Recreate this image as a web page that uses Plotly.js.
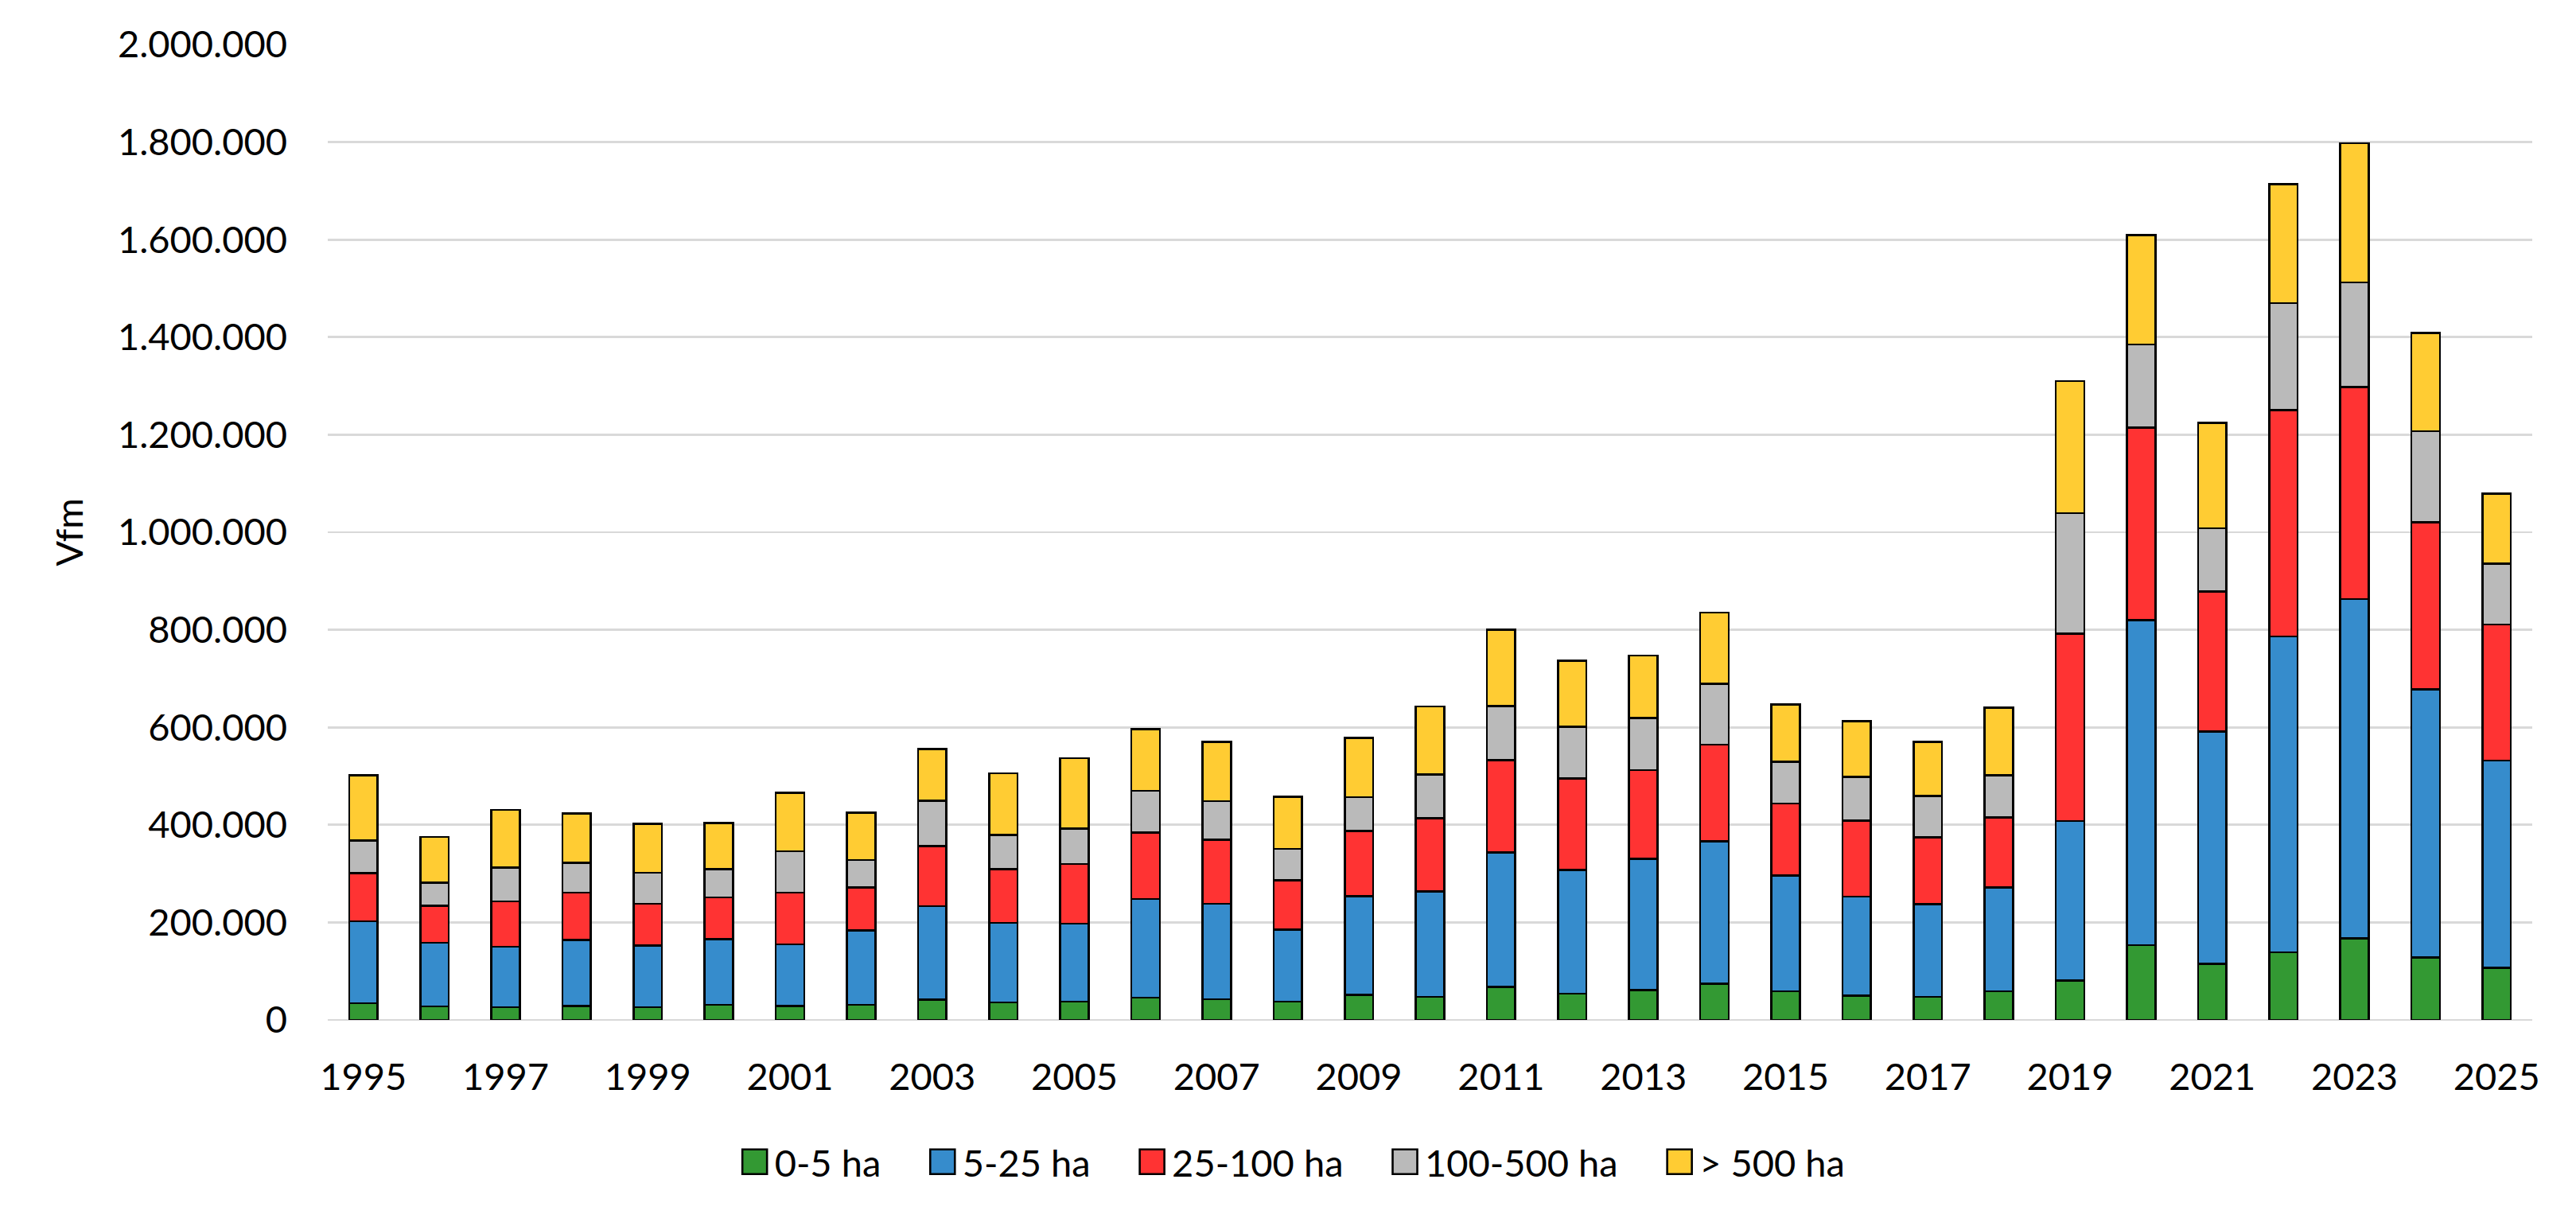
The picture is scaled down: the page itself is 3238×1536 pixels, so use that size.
<!DOCTYPE html>
<html>
<head>
<meta charset="utf-8">
<script src="https://cdn.plot.ly/plotly-3.0.1.min.js"></script>
<style>html,body{margin:0;padding:0;background:#fff;}#chart{width:3238px;height:1536px;}</style>
</head>
<body>
<div id="chart"></div>
<script>
const years = ['1995','1996','1997','1998','1999','2000','2001','2002','2003','2004','2005','2006','2007','2008','2009','2010','2011','2012','2013','2014','2015','2016','2017','2018','2019','2020','2021','2022','2023','2024','2025'];
const tickYears = ['1995','1997','1999','2001','2003','2005','2007','2009','2011','2013','2015','2017','2019','2021','2023','2025'];
const seriesNames = ['0-5 ha','5-25 ha','25-100 ha','100-500 ha','> 500 ha'];
const ha0_5 = [34000,27500,26000,29000,26000,31000,29000,31000,42000,36000,37500,46000,42500,37500,51000,47500,67500,54000,61000,74000,59000,50000,47000,58500,81000,153500,115000,138500,167000,128500,107000];
const ha5_25 = [168000,130500,124000,135000,127000,135000,126000,153000,191000,163000,160000,202000,196000,147500,203000,216000,276000,253500,269000,292000,237000,203000,190500,213500,327000,666500,476000,647500,696000,549000,424500];
const ha25_100 = [99000,76000,93000,97000,85000,85000,106000,88000,123000,110000,122000,136000,131000,101000,133000,150000,189000,187500,182500,198500,148000,156000,136500,143500,384000,395000,287000,464000,434500,343000,279500];
const ha100_500 = [67000,47000,69000,61000,64000,58000,85000,56000,93000,70000,73000,86000,79000,65000,70000,90000,111000,106000,106500,125000,85000,89000,85000,86000,247000,170000,130000,220000,214500,187000,125000];
const ha500plus = [134000,94000,119000,101000,100000,95000,120000,97000,106000,127000,144000,126000,122000,106500,121000,139500,157000,136000,128000,146000,118000,114500,111000,138500,271000,224500,216000,244000,286000,201000,143000];
const seriesValues = [ha0_5, ha5_25, ha25_100, ha100_500, ha500plus];
const colors = ['#339933','#368ccc','#ff3333','#bababa','#ffcc33'];

const FONT = 'Lato, "Open Sans", sans-serif';
const traces = seriesNames.map((name, i) => ({
  type: 'bar',
  name: name,
  x: years,
  y: seriesValues[i],
  marker: {color: colors[i], line: {color: '#000000', width: 2.6}},
  hoverinfo: 'x+y+name'
}));

const layout = {
  width: 3238,
  height: 1536,
  barmode: 'stack',
  bargap: 0.6,
  separators: ',.',
  paper_bgcolor: '#ffffff',
  plot_bgcolor: '#ffffff',
  font: {family: FONT, size: 47, color: '#000000'},
  margin: {l: 412, r: 55, t: 56, b: 254, pad: 0},
  xaxis: {
    type: 'category',
    tickmode: 'array',
    tickvals: tickYears,
    ticktext: tickYears,
    range: [-0.5, years.length - 0.5],
    showgrid: false,
    showline: false,
    zeroline: false,
    ticks: '',
    ticklabelstandoff: 40,
    tickfont: {family: FONT, size: 47, color: '#000000'}
  },
  yaxis: {
    range: [0, 2000000],
    dtick: 200000,
    tickformat: ',d',
    showgrid: true,
    gridcolor: '#d9d9d9',
    gridwidth: 2.7,
    zeroline: true,
    zerolinecolor: '#d9d9d9',
    zerolinewidth: 2.7,
    showline: false,
    ticks: '',
    ticklabelstandoff: 50,
    tickfont: {family: FONT, size: 47, color: '#000000'},
    title: {text: 'Vfm', font: {family: FONT, size: 47, color: '#000000'}, standoff: 28}
  },
  showlegend: true,
  legend: {
    orientation: 'h',
    xref: 'paper',
    x: 0.439,
    xanchor: 'center',
    yref: 'container',
    y: 0.049,
    yanchor: 'middle',
    traceorder: 'normal',
    font: {family: FONT, size: 47, color: '#000000'},
    itemwidth: 40,
    bgcolor: 'rgba(0,0,0,0)'
  }
};

function parseT(g) {
  const m = /translate\(\s*([-\d.e]+)[ ,]+([-\d.e]+)\s*\)/.exec(g.getAttribute('transform') || '');
  return m ? [parseFloat(m[1]), parseFloat(m[2])] : [0, 0];
}

Plotly.newPlot('chart', traces, layout, {staticPlot: true}).then(() => {
  const root = document.getElementById('chart');
  const legend = root.querySelector('.legend');
  // let the widened legend draw outside its original box
  legend.querySelectorAll('[clip-path]').forEach(el => el.removeAttribute('clip-path'));
  if (legend.hasAttribute('clip-path')) legend.removeAttribute('clip-path');
  legend.querySelectorAll('.legendpoints path').forEach(p => {
    p.setAttribute('d', 'M15.5,15.5H-15.5V-15.5H15.5Z');
  });
  // spread legend entries like the reference (gap of ~62px after each label)
  const items = Array.from(legend.querySelectorAll('.traces'));
  const GAP = 62;
  for (let i = 1; i < items.length; i++) {
    const prevText = items[i - 1].querySelector('text.legendtext').getBoundingClientRect();
    const sq = items[i].querySelector('.legendpoints path').getBoundingClientRect();
    const dx = prevText.right + GAP - sq.left;
    const t = parseT(items[i]);
    items[i].setAttribute('transform', 'translate(' + (t[0] + dx) + ',' + t[1] + ')');
  }
  const first = items[0].querySelector('.legendpoints path').getBoundingClientRect();
  const last = items[items.length - 1].querySelector('text.legendtext').getBoundingClientRect();
  const rootRect = root.getBoundingClientRect();
  const center = (first.left + last.right) / 2 - rootRect.left;
  const shift = 1626 - center;
  items.forEach(g => {
    const t = parseT(g);
    g.setAttribute('transform', 'translate(' + (t[0] + shift) + ',' + t[1] + ')');
  });
});
</script>
</body>
</html>
